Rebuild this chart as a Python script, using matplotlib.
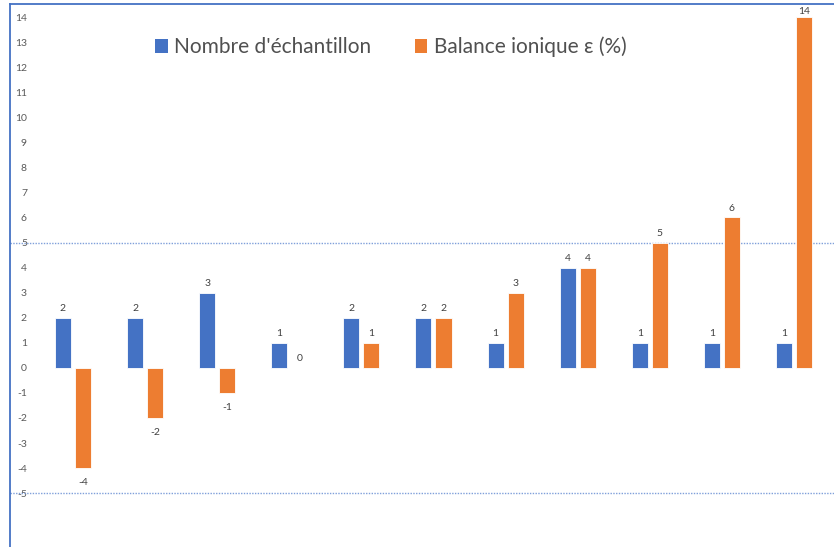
import matplotlib
matplotlib.use("Agg")
import matplotlib.pyplot as plt
from matplotlib.lines import Line2D
from matplotlib.patches import Patch
import numpy as np

plt.rcParams['font.family'] = ['Lato', 'DejaVu Sans']

# Data
nombre_echantillon = [2, 2, 3, 1, 2, 2, 1, 4, 1, 1, 1]
balance_ionique = [-4, -2, -1, 0, 1, 2, 3, 4, 5, 6, 14]
y_ticks = list(range(-5, 15))
legend_labels = ["Nombre d'échantillon", "Balance ionique ε (%)"]

BLUE = '#4472C4'
ORANGE = '#ED7D31'
TXT = '#595959'

W, H = 834, 547
fig = plt.figure(figsize=(W / 100, H / 100), dpi=100)
fig.patch.set_facecolor('white')
ax = fig.add_axes([0, 0, 1, 1])
ax.set_facecolor('none')

x = np.arange(len(nombre_echantillon))
bw = 0.222
off = 0.139

ax.bar(x - off, nombre_echantillon, bw, color=BLUE, edgecolor='white', linewidth=0.6, zorder=3)
ax.bar(x + off, balance_ionique, bw, color=ORANGE, edgecolor='white', linewidth=0.6, zorder=3)

ymax = 14.68
for xs, vals in ((x - off, nombre_echantillon), (x + off, balance_ionique)):
    for xi, v in zip(xs, vals):
        if v < 0:
            ax.annotate(str(v), xy=(xi, v), xytext=(0, -7), textcoords='offset points',
                        ha='center', va='top', fontsize=7.5, color='#404040', zorder=4)
        else:
            pad = 3.5 if v < 13 else 0.5
            ax.annotate(str(v), xy=(xi, v), xytext=(0, pad), textcoords='offset points',
                        ha='center', va='bottom', fontsize=7.5, color='#404040', zorder=4)

ax.set_xlim(-1.012, 10.555)
ax.set_ylim(-7.15, ymax)

ax.set_xticks([])
ax.set_yticks(y_ticks)
ax.set_yticklabels([str(t) for t in y_ticks])
ax.tick_params(axis='y', length=0, pad=-19.4, labelsize=7.5, labelcolor=TXT)
for lbl in ax.get_yticklabels():
    lbl.set_horizontalalignment('right')

for s in ax.spines.values():
    s.set_visible(False)

# Reference lines at +5 and -5
for yv in (5, -5):
    ax.axhline(yv, xmin=10 / W, xmax=1, color='#7F9FDA', linestyle=(0, (1, 1)),
               linewidth=1.0, zorder=2)

# Frame edges
fig.add_artist(Line2D([10 / W, 10 / W], [0, 1 - 4 / H], transform=fig.transFigure,
                      color=BLUE, linewidth=1.3))
fig.add_artist(Line2D([10 / W, 1], [1 - 4 / H, 1 - 4 / H], transform=fig.transFigure,
                      color=BLUE, linewidth=1.3))

handles = [Patch(facecolor=BLUE), Patch(facecolor=ORANGE)]
leg = fig.legend(handles, legend_labels, ncol=2, loc='center left',
                 bbox_to_anchor=(147 / W, 1 - 47 / H), frameon=False,
                 fontsize=15, handlelength=0.6, handleheight=0.6,
                 handletextpad=0.3, columnspacing=2.1, borderaxespad=0)
for t in leg.get_texts():
    t.set_color('#505050')

fig.savefig('out.png', dpi=100, facecolor='white')
